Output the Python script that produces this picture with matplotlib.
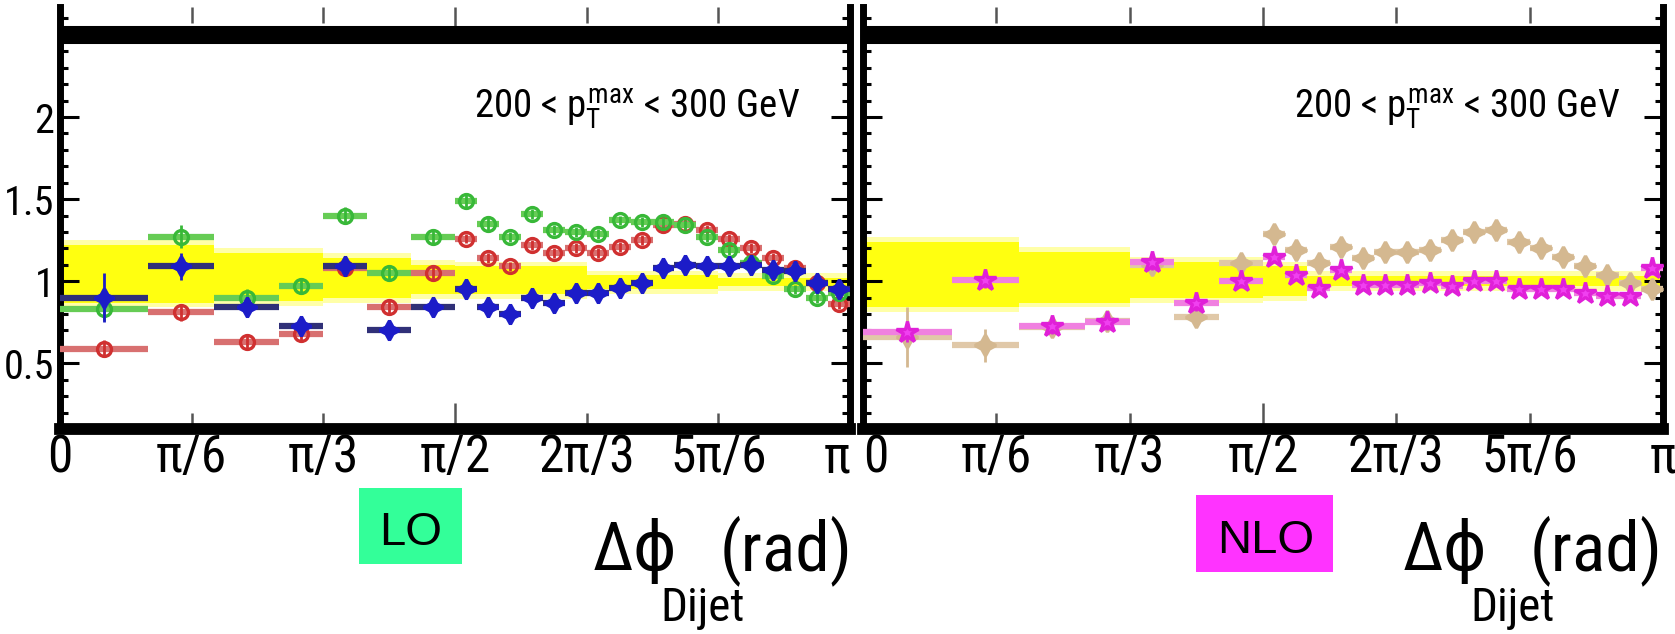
import numpy as np
import matplotlib
matplotlib.use('Agg')
import matplotlib.pyplot as plt
from matplotlib import font_manager
from matplotlib.patches import Rectangle
from matplotlib.ticker import MultipleLocator, FixedLocator, FixedFormatter

# the reference uses a narrow Helvetica; take a condensed face if one is installed
installed = {f.name for f in font_manager.fontManager.ttflist}
condensed = {f.name for f in font_manager.fontManager.ttflist
             if str(f.stretch) in ('condensed', 'semi-condensed', 'extra-condensed')}
FONT, STRETCH, K = 'Liberation Sans', 'normal', 0.84
for cand in ['Liberation Sans Narrow', 'Roboto Condensed', 'Noto Sans Condensed',
             'Open Sans Condensed', 'DejaVu Sans Condensed']:
    if cand in installed:
        FONT, K = cand, 1.0
        break
else:
    for cand in ['Noto Sans', 'DejaVu Sans', 'Open Sans', 'Roboto']:
        if cand in condensed:
            FONT, STRETCH, K = cand, 'condensed', 1.0
            break

NARROW = [FONT, 'DejaVu Sans']
plt.rcParams['font.family'] = NARROW
plt.rcParams['font.stretch'] = STRETCH
plt.rcParams['mathtext.fontset'] = 'custom'
plt.rcParams['mathtext.rm'] = FONT
plt.rcParams['mathtext.it'] = FONT

UNIT = np.pi / 36  # bin edges are in steps of 5 degrees

# bin edges of the delta phi distribution (in units of pi/36)
bin_edges = [0, 4, 7, 10, 12, 14, 16, 18, 19, 20, 21, 22, 23, 24, 25, 26,
             27, 28, 29, 30, 31, 32, 33, 34, 35, 36]

# LO panel: ratios of three predictions
lo_green = [0.83, 1.27, 0.90, 0.97, 1.40, 1.05, 1.27, 1.49, 1.35, 1.27, 1.41, 1.31, 1.30,
            1.29, 1.37, 1.36, 1.36, 1.34, 1.27, 1.19, 1.11, 1.03, 0.95, 0.90, 0.93]
lo_green_err = [0.07, 0.07, 0.05, 0.05, 0.05, 0.05, 0.04, 0.04, 0.04, 0.03, 0.03, 0.03, 0.03,
                0.03, 0.03, 0.03, 0.03, 0.03, 0.03, 0.03, 0.03, 0.03, 0.03, 0.03, 0.03]
lo_red = [0.59, 0.81, 0.63, 0.68, 1.08, 0.84, 1.05, 1.26, 1.14, 1.09, 1.22, 1.17, 1.20,
          1.17, 1.21, 1.25, 1.34, 1.35, 1.31, 1.26, 1.20, 1.14, 1.08, 0.99, 0.86]
lo_red_err = [0.05, 0.05, 0.05, 0.04, 0.04, 0.04, 0.04, 0.03, 0.03, 0.03, 0.03, 0.03, 0.03,
              0.03, 0.03, 0.03, 0.03, 0.03, 0.03, 0.03, 0.03, 0.03, 0.03, 0.03, 0.03]
lo_blue = [0.90, 1.09, 0.84, 0.73, 1.09, 0.70, 0.84, 0.95, 0.84, 0.80, 0.90, 0.87, 0.93,
           0.93, 0.96, 0.99, 1.08, 1.10, 1.09, 1.09, 1.10, 1.07, 1.06, 0.99, 0.95]
lo_blue_err = [0.15, 0.08, 0.06, 0.05, 0.05, 0.05, 0.04, 0.04, 0.04, 0.04, 0.03, 0.03, 0.03,
               0.03, 0.03, 0.03, 0.03, 0.03, 0.03, 0.03, 0.03, 0.03, 0.03, 0.03, 0.03]

# NLO panel
nlo_magenta = [0.69, 1.01, 0.73, 0.75, 1.12, 0.87, 1.00, 1.15, 1.04, 0.96, 1.07, 0.98, 0.98,
               0.98, 0.99, 0.97, 1.00, 1.00, 0.95, 0.95, 0.95, 0.93, 0.91, 0.91, 1.08]
nlo_magenta_err = [0.06, 0.05, 0.05, 0.05, 0.05, 0.05, 0.04, 0.04, 0.03, 0.03, 0.03, 0.03, 0.03,
                   0.03, 0.03, 0.03, 0.03, 0.03, 0.03, 0.03, 0.03, 0.03, 0.03, 0.03, 0.04]
nlo_tan = [0.66, 0.61, 0.72, 0.76, 1.10, 0.78, 1.11, 1.29, 1.19, 1.11, 1.21, 1.14, 1.18,
           1.18, 1.19, 1.25, 1.30, 1.31, 1.24, 1.20, 1.15, 1.09, 1.04, 0.99, 0.95]
nlo_tan_err = [0.18, 0.10, 0.06, 0.05, 0.05, 0.06, 0.04, 0.04, 0.03, 0.03, 0.03, 0.03, 0.03,
               0.03, 0.03, 0.03, 0.03, 0.03, 0.03, 0.03, 0.03, 0.03, 0.03, 0.03, 0.03]

# systematic uncertainty band (yellow)
band_lo_edges = [0, 7, 12, 16, 18, 24, 30, 36]
band_lo_up = [1.22, 1.17, 1.14, 1.10, 1.09, 1.035, 1.02]
band_lo_down = [0.87, 0.88, 0.90, 0.92, 0.92, 0.955, 0.97]
band_nlo_edges = [0, 7, 12, 18, 20, 36]
band_nlo_up = [1.24, 1.18, 1.12, 1.09, 1.03]
band_nlo_down = [0.84, 0.87, 0.90, 0.91, 0.97]

xtick_major = [0, np.pi / 2, np.pi]
xtick_major_labels = ['0', 'π/2', 'π']
xtick_minor = [np.pi / 6, np.pi / 3, 2 * np.pi / 3, 5 * np.pi / 6]
xtick_minor_labels = ['π/6', 'π/3', '2π/3', '5π/6']
ytick_values = [0.5, 1, 1.5, 2]
ytick_labels = ['0.5', '1', '1.5', '2']

W, H = 1675, 634
fig = plt.figure(figsize=(W / 100, H / 100), dpi=100)
fig.patch.set_facecolor('white')

edges = np.array(bin_edges) * UNIT
centers = 0.5 * (edges[1:] + edges[:-1])
halfw = 0.5 * (edges[1:] - edges[:-1])


def draw_band(ax, e, up, down):
    e = np.array(e) * UNIT
    up = np.append(up, up[-1])
    down = np.append(down, down[-1])
    ax.fill_between(e, down - 0.03, up + 0.03, step='post', color='#ffffa8', lw=0, zorder=1)
    ax.fill_between(e, down, up, step='post', color='#ffff10', lw=0, zorder=1.1)


def draw_series(ax, y, yerr, marker, ms, col, mfc, barcol, z):
    ax.errorbar(centers, y, xerr=halfw, fmt='none', ecolor=barcol, elinewidth=4.5,
                capsize=0, zorder=z)
    ax.errorbar(centers, y, yerr=yerr, fmt='', marker=marker, linestyle='none', ms=ms,
                mfc=mfc, mec=col, mew=2.4, ecolor=col, elinewidth=2, capsize=0,
                zorder=z + 0.1)


def style_axes(ax, show_ylabels):
    ax.set_xlim(0, np.pi)
    ax.set_ylim(0.1, 2.67)
    ax.spines['top'].set_visible(False)
    for s in ('left', 'right'):
        ax.spines[s].set_linewidth(5)
    ax.spines['bottom'].set_linewidth(8.5)
    ax.axhline(2.5, color='black', lw=13, zorder=5)
    ax.xaxis.set_major_locator(FixedLocator(xtick_major))
    ax.xaxis.set_major_formatter(FixedFormatter(xtick_major_labels))
    ax.xaxis.set_minor_locator(FixedLocator(xtick_minor))
    ax.xaxis.set_minor_formatter(FixedFormatter(xtick_minor_labels))
    ax.yaxis.set_major_locator(FixedLocator(ytick_values))
    ax.yaxis.set_major_formatter(FixedFormatter(ytick_labels))
    ax.yaxis.set_minor_locator(MultipleLocator(0.1))
    ax.tick_params(axis='x', which='both', direction='in', top=True, bottom=True,
                   color='#555555', width=1.8, labelsize=37 * K, pad=3)
    ax.tick_params(axis='x', which='major', length=19)
    ax.tick_params(axis='x', which='minor', length=11.5)
    ax.tick_params(axis='y', which='both', direction='in', left=True, right=True,
                   color='black', width=2.2, labelsize=29 * K, pad=4, labelleft=show_ylabels)
    ax.tick_params(axis='y', which='major', length=14)
    ax.tick_params(axis='y', which='minor', length=6)


ax_bottom = 1 - 429 / H
ax_height = (429 - 7) / H
ax1 = fig.add_axes([60 / W, ax_bottom, 790 / W, ax_height])
ax2 = fig.add_axes([863 / W, ax_bottom, 800 / W, ax_height])

# LO
draw_band(ax1, band_lo_edges, band_lo_up, band_lo_down)
draw_series(ax1, lo_red, lo_red_err, 'o', 10, '#d03030', 'none', '#d87070', 3)
draw_series(ax1, lo_green, lo_green_err, 'o', 10, '#38b838', 'none', '#66cc55', 3.3)
draw_series(ax1, lo_blue, lo_blue_err, (4, 1, 0), 14, '#1c1cc8', '#1c1cc8', '#303078', 3.6)
style_axes(ax1, True)

# NLO
draw_band(ax2, band_nlo_edges, band_nlo_up, band_nlo_down)
draw_series(ax2, nlo_tan, nlo_tan_err, (4, 1, 0), 15, '#d4b890', '#d4b890', '#e0c8a8', 3)
draw_series(ax2, nlo_magenta, nlo_magenta_err, '*', 16, '#e020d8', '#f040f0', '#f080e0', 3.3)
style_axes(ax2, False)

# keep the pi of the left panel and the 0 of the right panel apart
ax1.get_xticklabels()[-1].set_horizontalalignment('right')
ax2.get_xticklabels()[0].set_horizontalalignment('left')

label_text = r'200 < $p_{\mathrm{T}}^{\mathrm{max}}$ < 300 GeV'
ax1.text(2.943, 1.99, label_text, ha='right', va='baseline', fontsize=28 * K, zorder=6)
ax2.text(2.973, 1.99, label_text, ha='right', va='baseline', fontsize=28 * K, zorder=6)

# axis titles under each panel
for dx in (0, 810):
    fig.text((593 + dx) / W, 1 - 570 / H, 'Δϕ', fontsize=48 * K, ha='left', va='baseline')
    fig.text((660 + dx) / W, 1 - 621 / H, 'Dijet', fontsize=34 * K, ha='left', va='baseline')
    fig.text((852 + dx) / W, 1 - 570 / H, '(rad)', fontsize=50 * K, ha='right', va='baseline')

# LO / NLO tags
fig.add_artist(Rectangle((359 / W, 1 - 564 / H), 103 / W, 76 / H,
                         transform=fig.transFigure, color='#33ff99', lw=0))
fig.text(410.5 / W, 1 - 545 / H, 'LO', fontsize=34, ha='center', va='baseline',
         family=['Liberation Sans', 'DejaVu Sans'], stretch='normal')
fig.add_artist(Rectangle((1196 / W, 1 - 572 / H), 137 / W, 77 / H,
                         transform=fig.transFigure, color='#ff33ff', lw=0))
fig.text(1266 / W, 1 - 553 / H, 'NLO', fontsize=34, ha='center', va='baseline',
         family=['Liberation Sans', 'DejaVu Sans'], stretch='normal')

fig.savefig('out.png', dpi=100, facecolor='white')
